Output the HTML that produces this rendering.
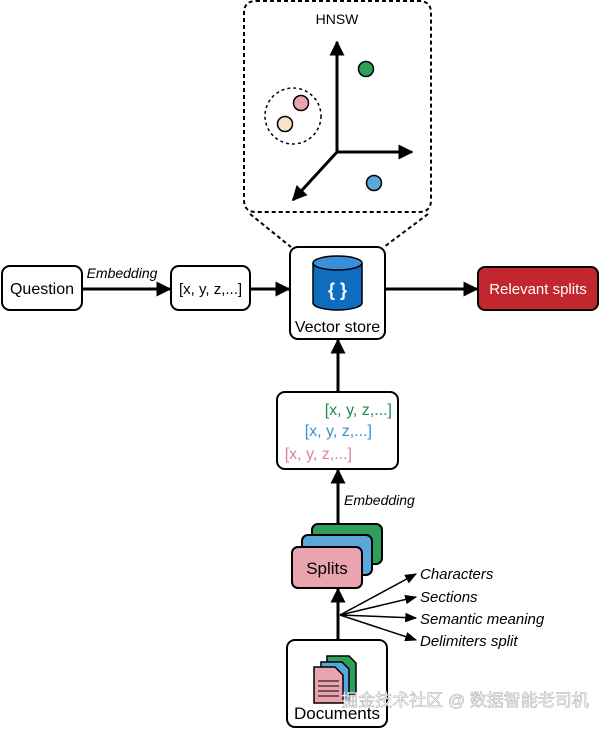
<!DOCTYPE html>
<html><head><meta charset="utf-8"><style>
html,body{margin:0;padding:0;background:#fff;width:600px;height:729px;overflow:hidden}
svg{display:block}
text{font-family:"Liberation Sans","Noto Sans CJK SC",sans-serif}
</style></head><body>
<svg width="600" height="729" viewBox="0 0 600 729">
<defs>
<marker id="a" viewBox="0 0 10 10" refX="9" refY="5" markerWidth="5" markerHeight="5" orient="auto"><path d="M0,0L10,5L0,10z" fill="#000"/></marker>
<marker id="s" viewBox="0 0 10 10" refX="9" refY="5" markerWidth="8" markerHeight="8" orient="auto"><path d="M0,1L10,5L0,9z" fill="#000"/></marker>
</defs>
<path d="M256,1 H419 Q431,1 431,13 V200 Q431,212 419,212 H256 Q244,212 244,200 V13 Q244,1 256,1Z" fill="none" stroke="#000" stroke-width="2" stroke-dasharray="4,3"/>
<line x1="250" y1="214" x2="291" y2="247" stroke="#000" stroke-width="2" stroke-dasharray="4,3"/>
<line x1="428" y1="214" x2="384" y2="247" stroke="#000" stroke-width="2" stroke-dasharray="4,3"/>
<text x="337" y="24" font-size="14" text-anchor="middle">HNSW</text>
<line x1="337" y1="152" x2="337" y2="42" stroke="#000" stroke-width="3" marker-end="url(#a)"/>
<line x1="337" y1="152" x2="412" y2="152" stroke="#000" stroke-width="3" marker-end="url(#a)"/>
<line x1="337" y1="152" x2="293" y2="200" stroke="#000" stroke-width="3" marker-end="url(#a)"/>
<circle cx="366" cy="69" r="7.5" fill="#2e9e5c" stroke="#000" stroke-width="1.5"/>
<circle cx="374" cy="183" r="7.5" fill="#5aa7dc" stroke="#000" stroke-width="1.5"/>
<circle cx="293" cy="116" r="28" fill="none" stroke="#000" stroke-width="1.5" stroke-dasharray="3,3"/>
<circle cx="301" cy="103" r="7.5" fill="#e9a4b0" stroke="#000" stroke-width="1.5"/>
<circle cx="285" cy="124" r="7.5" fill="#fbe2c6" stroke="#000" stroke-width="1.5"/>
<rect x="290" y="247" width="95" height="92" rx="8" fill="#fff" stroke="#000" stroke-width="2"/>
<path d="M313,263 V303 A24.5,7 0 0 0 362,303 V263" fill="#0f6cbf" stroke="#000" stroke-width="1.5"/>
<ellipse cx="337.5" cy="263" rx="24.5" ry="7" fill="#3b8fd9" stroke="#000" stroke-width="1.5"/>
<text x="337.5" y="296" font-size="18" font-weight="bold" fill="#fff" text-anchor="middle">{ }</text>
<text x="337.5" y="332" font-size="16" text-anchor="middle">Vector store</text>
<rect x="2" y="266" width="80" height="44" rx="8" fill="#fff" stroke="#000" stroke-width="2"/>
<text x="42" y="294" font-size="16" text-anchor="middle">Question</text>
<line x1="82" y1="289" x2="170" y2="289" stroke="#000" stroke-width="3" marker-end="url(#a)"/>
<text x="122" y="278" font-size="14" font-style="italic" text-anchor="middle">Embedding</text>
<rect x="171" y="266" width="79" height="44" rx="8" fill="#fff" stroke="#000" stroke-width="2"/>
<text x="210.5" y="294" font-size="15" text-anchor="middle">[x, y, z,...]</text>
<line x1="250" y1="289" x2="289" y2="289" stroke="#000" stroke-width="3" marker-end="url(#a)"/>
<line x1="385" y1="289" x2="477" y2="289" stroke="#000" stroke-width="3" marker-end="url(#a)"/>
<rect x="478" y="267" width="120" height="43" rx="7" fill="#c1272d" stroke="#000" stroke-width="2"/>
<text x="538" y="294" font-size="15" fill="#fff" text-anchor="middle">Relevant splits</text>
<line x1="338" y1="392" x2="338" y2="340" stroke="#000" stroke-width="3" marker-end="url(#a)"/>
<rect x="277" y="392" width="121" height="77" rx="8" fill="#fff" stroke="#000" stroke-width="2"/>
<text x="392" y="415" font-size="16" fill="#1e8a4c" text-anchor="end">[x, y, z,...]</text>
<text x="372" y="436" font-size="16" fill="#3a8fd0" text-anchor="end">[x, y, z,...]</text>
<text x="352" y="459" font-size="16" fill="#d98596" text-anchor="end">[x, y, z,...]</text>
<line x1="338" y1="524" x2="338" y2="470" stroke="#000" stroke-width="3" marker-end="url(#a)"/>
<text x="344" y="505" font-size="14" font-style="italic">Embedding</text>
<rect x="312" y="524" width="70" height="40" rx="6" fill="#2e9e5c" stroke="#000" stroke-width="2"/>
<rect x="302" y="535" width="70" height="40" rx="6" fill="#5aa7dc" stroke="#000" stroke-width="2"/>
<rect x="292" y="547" width="70" height="41" rx="6" fill="#e9a4b0" stroke="#000" stroke-width="2"/>
<text x="327" y="574" font-size="17" text-anchor="middle">Splits</text>
<line x1="338" y1="640" x2="338" y2="589" stroke="#000" stroke-width="3" marker-end="url(#a)"/>
<g stroke="#000" stroke-width="1.5">
<line x1="340" y1="615" x2="416" y2="574" marker-end="url(#s)"/>
<line x1="340" y1="615" x2="416" y2="597" marker-end="url(#s)"/>
<line x1="340" y1="615" x2="416" y2="618" marker-end="url(#s)"/>
<line x1="340" y1="615" x2="416" y2="640" marker-end="url(#s)"/>
</g>
<g font-size="15" font-style="italic">
<text x="420" y="579">Characters</text>
<text x="420" y="602">Sections</text>
<text x="420" y="624">Semantic meaning</text>
<text x="420" y="646">Delimiters split</text>
</g>
<rect x="287" y="640" width="100" height="87" rx="8" fill="#fff" stroke="#000" stroke-width="2"/>
<path d="M327,656 H349 L356,663 V694 H327Z" fill="#2e9e5c" stroke="#000" stroke-width="1.5"/>
<path d="M321,662 H342 L349,669 V700 H321Z" fill="#5aa7dc" stroke="#000" stroke-width="1.5"/>
<path d="M314,667 H335 L343,675 V703 H314Z" fill="#e9a4b0" stroke="#000" stroke-width="1.5"/>
<g stroke="#000" stroke-width="1"><line x1="318" y1="681" x2="339" y2="681"/><line x1="318" y1="686" x2="339" y2="686"/><line x1="318" y1="691" x2="339" y2="691"/><line x1="318" y1="696" x2="339" y2="696"/></g>
<text x="337" y="719" font-size="17" text-anchor="middle">Documents</text>
<text x="465" y="706" font-size="17" fill="#fff" stroke="#aaa" stroke-width="0.5" text-anchor="middle">掘金技术社区 @ 数据智能老司机</text>
</svg>
</body></html>
